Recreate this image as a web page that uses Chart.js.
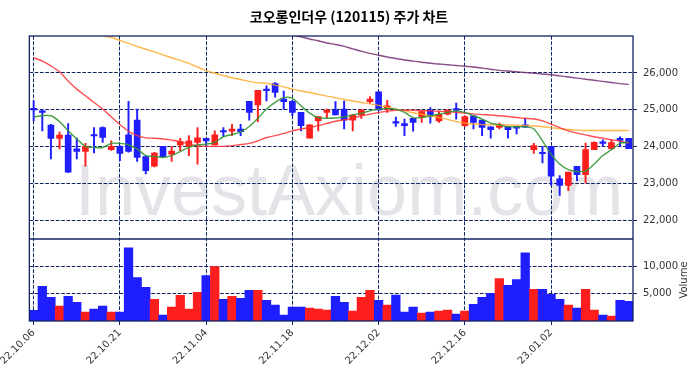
<!DOCTYPE html>
<html>
<head>
<meta charset="utf-8">
<script src="https://cdn.jsdelivr.net/npm/chart.js@4/dist/chart.umd.min.js"></script>
<style>
  html, body { margin: 0; padding: 0; background: #fff; }
  canvas { display: block; }
</style>
</head>
<body>
<canvas id="chart" width="698" height="378"></canvas>
<script>
// 거래일 (22.10.06 ~ 23.01.13)
const dates = [
  '22.10.06','22.10.07','22.10.11','22.10.12','22.10.13','22.10.14','22.10.17','22.10.18','22.10.19','22.10.20',
  '22.10.21','22.10.24','22.10.25','22.10.26','22.10.27','22.10.28','22.10.31','22.11.01','22.11.02','22.11.03',
  '22.11.04','22.11.07','22.11.08','22.11.09','22.11.10','22.11.11','22.11.14','22.11.15','22.11.16','22.11.17',
  '22.11.18','22.11.21','22.11.22','22.11.23','22.11.24','22.11.25','22.11.28','22.11.29','22.11.30','22.12.01',
  '22.12.02','22.12.05','22.12.06','22.12.07','22.12.08','22.12.09','22.12.12','22.12.13','22.12.14','22.12.15',
  '22.12.16','22.12.19','22.12.20','22.12.21','22.12.22','22.12.23','22.12.26','22.12.27','22.12.28','22.12.29',
  '23.01.02','23.01.03','23.01.04','23.01.05','23.01.06','23.01.09','23.01.10','23.01.11','23.01.12','23.01.13'
];

const openP = [
  25020,24950,24586,24226,24316,23940,23870,24310,24520,23920,
  24010,24320,24720,23730,23470,24010,23800,24050,24010,24120,
  24230,24050,24420,24420,24480,25230,25130,25540,25710,25290,
  25230,24930,24230,24700,24930,24990,25020,24720,24860,25220,
  25490,25020,24660,24630,24770,24810,24990,24700,24880,25010,
  24570,24840,24720,24540,24520,24540,24550,24590,23920,23830,
  24010,23130,22950,23470,23240,23920,24110,23950,24230,24230
];
const highP = [
  25243,25000,24610,24400,24630,24235,24090,24520,24540,24160,
  24030,25231,25020,23750,23850,24010,24010,24230,24300,24520,
  24230,24430,24520,24610,24610,25230,25530,25650,25740,25510,
  25250,24930,24600,24820,25020,25220,25240,24880,25000,25360,
  25490,25260,24800,24750,24770,24950,25060,24950,24990,25180,
  24840,24840,24720,24540,24640,24540,24560,24770,24090,24010,
  24010,23220,23310,23470,24100,24130,24190,24180,24270,24230
];
const lowP = [
  24700,24430,23670,23940,23300,23670,23470,23830,24120,23900,
  23620,23850,23600,23260,23450,23730,23600,23890,23760,23530,
  24010,24050,24280,24300,24300,24720,24680,25240,25340,25020,
  24840,24430,24230,24430,24790,24860,24480,24430,24770,25180,
  24990,24930,24550,24300,24420,24660,24640,24660,24860,24750,
  24550,24480,24300,24230,24480,24230,24350,24520,23820,23560,
  22960,22680,22810,23080,23020,23920,24010,23930,24010,23950
];
const closeP = [
  25000,24930,24226,24316,23308,23870,24010,24290,24250,24010,
  23820,23870,23710,23350,23830,23730,23880,24140,24160,24240,
  24160,24320,24400,24480,24410,24930,25530,25520,25470,25220,
  24930,24570,24590,24820,24990,24860,24720,24860,25000,25290,
  25000,25110,24640,24570,24660,24950,24860,24880,24990,24990,
  24820,24660,24520,24460,24610,24460,24500,24530,24030,23810,
  23200,22950,23310,23240,23920,24120,24090,24110,24170,23950
];
const volume = [
  1930,6330,4340,2710,4520,3430,1630,2170,2710,1630,
  1630,13370,7950,6140,3980,1080,2530,4700,2170,5240,
  8310,9940,3980,4520,4160,5600,5600,3800,2890,1080,
  2530,2530,2350,2170,1990,4520,3430,1810,4340,5600,
  3800,2890,4760,1630,2530,1450,1630,1810,1990,1270,
  1810,3070,4340,5060,7770,6510,7590,12470,5780,5780,
  4880,3980,2890,2350,5780,1990,1080,900,3800,3610
];

// 이동평균선
const ma5 = [
  24810,24840,24840,24680,24430,24210,24010,23980,23980,24090,
  24090,24050,23940,23760,23740,23710,23760,23870,23980,24050,
  24070,24120,24270,24330,24400,24550,24770,25020,25200,25330,
  25310,25110,24910,24790,24770,24780,24810,24860,24910,24970,
  25020,25040,25020,24930,24790,24790,24840,24880,24930,24970,
  24930,24840,24750,24640,24590,24540,24540,24540,24480,24160,
  23800,23530,23380,23330,23340,23530,23760,23920,24090,24120
];
const ma20 = [
  26410,26320,26190,26030,25780,25560,25380,25200,25020,24810,
  24600,24420,24300,24240,24230,24210,24180,24140,24070,24030,
  24010,24010,24010,24030,24060,24090,24160,24250,24300,24360,
  24430,24480,24520,24570,24630,24690,24730,24770,24840,24880,
  24930,24960,24990,24990,24990,24980,24970,24960,24950,24930,
  24910,24890,24870,24860,24840,24820,24790,24770,24750,24700,
  24610,24520,24430,24370,24320,24270,24230,24190,24150,24100
];
const ma60 = [
  27700,27620,27530,27440,27350,27260,27170,27090,27010,26960,
  26880,26800,26720,26640,26570,26490,26410,26340,26260,26160,
  26060,25990,25930,25870,25820,25770,25730,25720,25670,25620,
  25560,25510,25470,25420,25370,25330,25280,25240,25200,25160,
  25120,25070,25020,24970,24920,24880,24840,24790,24740,24680,
  24640,24615,24600,24595,24590,24590,24585,24575,24560,24540,
  24515,24490,24465,24450,24440,24440,24440,24440,24440,24440
];
const ma120 = [
  null,null,null,null,null,null,null,null,null,null,
  null,null,null,null,null,null,null,null,null,null,
  null,null,null,null,null,null,null,null,27140,27080,
  27020,26980,26920,26870,26810,26770,26720,26650,26590,26530,
  26480,26430,26390,26350,26320,26290,26260,26240,26220,26200,
  26180,26160,26130,26100,26070,26050,26030,26010,25990,25970,
  25950,25920,25890,25860,25830,25800,25770,25740,25710,25690
];

const priceTicks = [22000, 23000, 24000, 25000, 26000];
const volumeTicks = [5000, 10000];

const title = '코오롱인더우 (120115) 주가 차트';
const watermark = 'InvestAxiom.com';

const navy = '#102463';
const upColor = 'rgb(255,30,30)';
const downColor = 'rgb(30,30,255)';
const dash = [3.7, 1.6];
const tickFont = { family: 'DejaVu Sans', size: 10 };

const isUp = (i) => closeP[i] >= openP[i];

// 워터마크, 제목, 테두리
const decorations = {
  id: 'decorations',
  beforeDraw(chart) {
    const c = chart.ctx;
    c.save();
    c.font = '72px "Liberation Sans"';
    c.fillStyle = '#e4e4e8';
    c.textBaseline = 'alphabetic';
    c.textAlign = 'left';
    c.fillText(watermark, 75, 215);
    c.restore();
  },
  afterDraw(chart) {
    const c = chart.ctx;
    const a = chart.chartArea;
    const vTop = chart.scales.yv.top;
    c.save();
    c.strokeStyle = navy;
    c.lineWidth = 1.3;
    c.strokeRect(a.left, a.top, a.right - a.left, a.bottom - a.top);
    c.beginPath();
    c.moveTo(a.left, vTop);
    c.lineTo(a.right, vTop);
    c.stroke();

    c.fillStyle = '#000';
    c.font = 'bold 14px "Noto Sans CJK KR"';
    c.textAlign = 'center';
    c.textBaseline = 'middle';
    c.fillText(title, 349, 17);

    c.fillStyle = '#333';
    c.font = '10px "DejaVu Sans"';
    c.translate(684, (vTop + a.bottom) / 2);
    c.rotate(-Math.PI / 2);
    c.fillText('Volume', 0, 0);
    c.restore();
  },
};

const lineDs = (label, data, color) => ({
  type: 'line',
  label,
  data,
  yAxisID: 'y',
  borderColor: color,
  borderWidth: 1.4,
  pointRadius: 0,
  tension: 0.3,
  order: 0,
});

new Chart(document.getElementById('chart'), {
  data: {
    labels: dates,
    datasets: [
      lineDs('MA5', ma5, 'rgba(50,150,50,0.9)'),
      lineDs('MA20', ma20, 'rgba(255,50,50,0.85)'),
      lineDs('MA60', ma60, 'rgba(255,165,30,0.8)'),
      lineDs('MA120', ma120, 'rgba(115,45,115,0.85)'),
      {
        type: 'bar',
        label: 'body',
        data: openP.map((o, i) => [o, closeP[i]]),
        yAxisID: 'y',
        grouped: false,
        barThickness: 6,
        minBarLength: 1.5,
        backgroundColor: (ctx) => (isUp(ctx.dataIndex) ? upColor : downColor),
        order: 1,
      },
      {
        type: 'bar',
        label: 'wick',
        data: lowP.map((l, i) => [l, highP[i]]),
        yAxisID: 'y',
        grouped: false,
        barThickness: 1.3,
        backgroundColor: (ctx) => (isUp(ctx.dataIndex) ? upColor : downColor),
        order: 2,
      },
      {
        type: 'bar',
        label: 'Volume',
        data: volume,
        yAxisID: 'yv',
        grouped: false,
        barPercentage: 1,
        categoryPercentage: 1,
        backgroundColor: (ctx) => (isUp(ctx.dataIndex) ? upColor : downColor),
        order: 3,
      },
    ],
  },
  options: {
    responsive: false,
    animation: false,
    devicePixelRatio: 1,
    layout: { padding: { top: 36, left: 25, right: 0, bottom: 0 } },
    plugins: {
      legend: { display: false },
      tooltip: { enabled: false },
    },
    scales: {
      x: {
        type: 'category',
        offset: true,
        grid: { offset: false, color: navy, lineWidth: 1, tickLength: 4, tickColor: navy },
        border: { display: false, dash: dash },
        ticks: { autoSkip: false, minRotation: 45, maxRotation: 45, font: tickFont, color: '#333', padding: 2 },
        afterBuildTicks: (s) => { s.ticks = s.ticks.filter((t) => t.value % 10 === 0); },
        afterFit: (s) => { s.height = 57; },
      },
      y: {
        position: 'right',
        stack: 'main',
        stackWeight: 203,
        min: 21500,
        max: 27000,
        grid: { color: navy, tickLength: 4, tickColor: navy },
        border: { display: false, dash: dash },
        ticks: { font: tickFont, color: '#333', padding: 6 },
        afterBuildTicks: (s) => { s.ticks = priceTicks.map((v) => ({ value: v })); },
        afterFit: (s) => { s.width = 65; },
      },
      yv: {
        position: 'right',
        stack: 'main',
        stackWeight: 82,
        min: 0,
        max: 15000,
        grid: { color: navy, tickLength: 4, tickColor: navy },
        border: { display: false, dash: dash },
        ticks: { font: tickFont, color: '#333', padding: 6 },
        afterBuildTicks: (s) => { s.ticks = volumeTicks.map((v) => ({ value: v })); },
        afterFit: (s) => { s.width = 65; },
      },
    },
  },
  plugins: [decorations],
});
</script>
</body>
</html>
